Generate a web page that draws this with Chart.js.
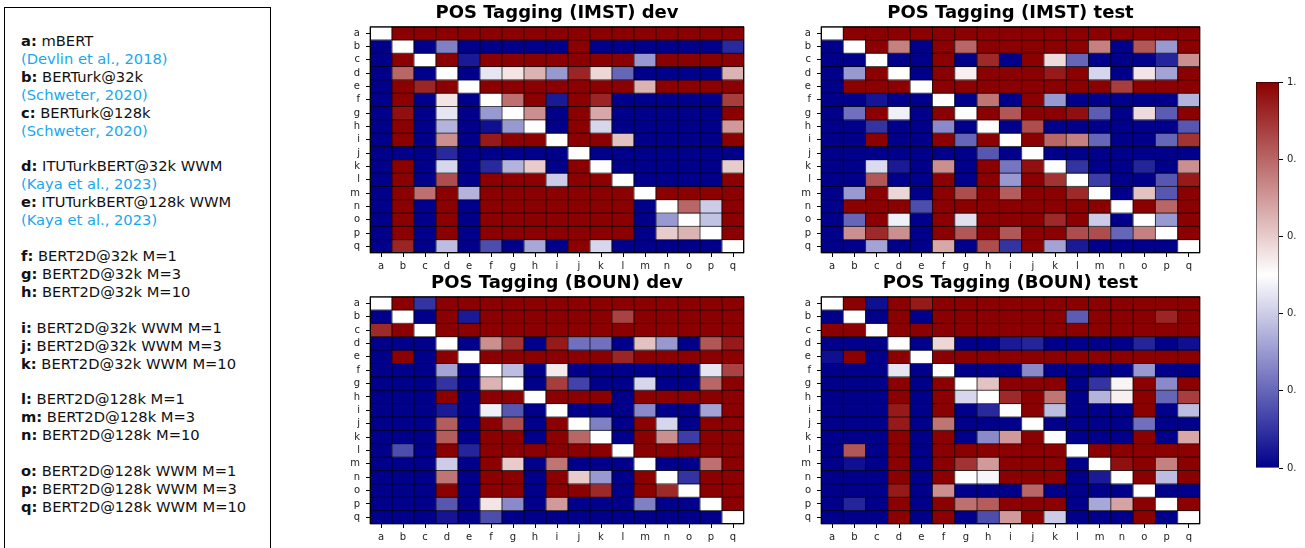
<!DOCTYPE html>
<html>
<head>
<meta charset="utf-8">
<script src="https://cdn.jsdelivr.net/npm/chart.js@4.4.1/dist/chart.umd.min.js"></script>
<style>
  body { margin: 0; background: #fff; width: 1305px; height: 548px; overflow: hidden; position: relative; font-family: "DejaVu Sans", sans-serif; }
  canvas { position: absolute; }
  #legendBox { position: absolute; left: 4px; top: 7px; width: 267px; height: 560px; border: 1px solid #000; box-sizing: border-box; }
  #legendBox .lines { position: absolute; left: 16px; top: 24px; font-size: 14.7px; line-height: 17.92px; color: #111; white-space: pre; }
  #legendBox b { font-weight: bold; }
  #legendBox .cite { color: #18a8ec; }
</style>
</head>
<body>
<div id="legendBox"><div class="lines" id="legendLines"></div></div>
<canvas id="c1" width="410" height="275" style="left:340px;top:0px"></canvas>
<canvas id="c2" width="416" height="275" style="left:790px;top:0px"></canvas>
<canvas id="c3" width="410" height="276" style="left:340px;top:270px"></canvas>
<canvas id="c4" width="416" height="276" style="left:790px;top:270px"></canvas>
<canvas id="cb" width="57" height="430" style="left:1240px;top:60px"></canvas>
<script>
// model letters (both axes)
const letters = ["a","b","c","d","e","f","g","h","i","j","k","l","m","n","o","p","q"];

// legend text: [letter, model name, citation or null], null = blank line
const legendRows = [
  ["a", "mBERT", "(Devlin et al., 2018)"],
  ["b", "BERTurk@32k", "(Schweter, 2020)"],
  ["c", "BERTurk@128k", "(Schweter, 2020)"],
  null,
  ["d", "ITUTurkBERT@32k WWM", "(Kaya et al., 2023)"],
  ["e", "ITUTurkBERT@128k WWM", "(Kaya et al., 2023)"],
  null,
  ["f", "BERT2D@32k M=1"], ["g", "BERT2D@32k M=3"], ["h", "BERT2D@32k M=10"],
  null,
  ["i", "BERT2D@32k WWM M=1"], ["j", "BERT2D@32k WWM M=3"], ["k", "BERT2D@32k WWM M=10"],
  null,
  ["l", "BERT2D@128k M=1"], ["m", "BERT2D@128k M=3"], ["n", "BERT2D@128k M=10"],
  null,
  ["o", "BERT2D@128k WWM M=1"], ["p", "BERT2D@128k WWM M=3"], ["q", "BERT2D@128k WWM M=10"]
];

const colorbarTicks = [0, 0.2, 0.4, 0.6, 0.8, 1.0];

// values (rows a..q, columns a..q)
const imstDev = [
  [0.5,1,1,1,1,1,1,1,1,1,1,1,1,1,1,1,1],
  [0,0.5,0,0.25,0,0,0,0,0,1,0,0,0,0,0,0,0.08],
  [0,1,0.5,1,0.05,1,1,1,1,1,1,1,0.3,1,1,1,1],
  [0,0.8,0,0.5,0,0.45,0.55,0.65,0.3,0.93,0.58,0.2,0,0,0,0,0.65],
  [0,1,0.93,1,0.5,1,1,1,1,1,1,1,0.65,1,1,1,1],
  [0,1,0,0.55,0,0.5,0.78,1,0.05,1,0.93,0,0,0,0,0,0.88],
  [0,0.97,0,0.45,0,0.3,0.5,0.72,0,1,0.67,0,0,0,0,0,1],
  [0,1,0,0.35,0,0.03,0.3,0.5,0,1,0.42,0,0,0,0,0,0.7],
  [0,1,0,0.72,0,0.95,1,1,0.5,1,1,0.62,0,0,0,0,1],
  [0,0,0,0.08,0,0,0,0,0,0.5,0,0,0,0,0,0,0],
  [0,1,0,0.42,0,0.08,0.35,0.6,0,1,0.5,0,0,0,0,0,0.6],
  [0,1,0,0.85,0,1,1,1,0.4,1,1,0.5,0,0,0,0,1],
  [0,1,0.78,1,0.35,1,1,1,1,1,1,1,0.5,1,1,1,1],
  [0,1,0,1,0,1,1,1,1,1,1,1,0,0.5,0.8,0.4,1],
  [0,1,0,1,0,1,1,1,1,1,1,1,0,0.3,0.5,0.38,1],
  [0,1,0,1,0,1,1,1,1,1,1,1,0,0.6,0.65,0.5,1],
  [0,0.93,0,0.37,0,0.15,0,0.33,0,1,0.42,0,0,0,0,0,0.5]
];

const imstTest = [
  [0.5,1,1,1,1,1,1,1,1,1,1,1,1,1,1,1,1],
  [0,0.5,1,0.75,0,1,0.8,1,1,1,1,1,0.75,0,0.83,0.3,1],
  [0,0,0.5,0,0,1,0,0.92,0,1,0.57,0.2,0,0,0,0.07,0.72],
  [0,0.3,1,0.5,0,1,0.53,1,1,1,0.95,1,0.42,0,0.55,0.32,1],
  [0,1,1,1,0.5,1,1,1,1,1,1,1,1,0.88,1,1,1],
  [0,0,0.04,0,0,0.5,0,0.77,0,1,0.3,0,0,0,0,0,0.35],
  [0,0.22,1,0.47,0,1,0.5,1,0.83,1,1,0.97,0.18,0,0.57,0.18,1],
  [0,0,0.1,0,0,0.27,0,0.5,0,0.85,0,0,0,0,0,0,0.17],
  [0,0,1,0,0,1,0.2,1,0.5,1,0.8,0.75,0.2,0,0,0.2,0.9],
  [0,0,0,0,0,0,0,0.17,0,0.5,0,0,0,0,0,0,0],
  [0,0,0.43,0.05,0,0.72,0,1,0.23,0.97,0.5,0.1,0,0,0.07,0,0.72],
  [0,0,0.83,0,0,1,0,1,0.3,1,0.9,0.5,0.12,0,0,0.17,0.95],
  [0,0.3,1,0.58,0,1,0.85,1,0.82,1,1,0.92,0.5,0,0.62,0.17,1],
  [0,1,1,1,0.15,1,1,1,1,1,1,1,1,0.5,1,0.8,1],
  [0,0.2,1,0.47,0,1,0.44,1,1,1,0.92,1,0.4,0,0.5,0.3,1],
  [0,0.72,0.92,0.72,0,1,0.83,1,0.83,1,1,0.85,0.85,0.2,0.75,0.5,1],
  [0,0,0.32,0,0,0.67,0,0.85,0.1,1,0.32,0.05,0,0,0,0,0.5]
];

const bounDev = [
  [0.5,1,0.1,1,1,1,1,1,1,1,1,1,1,1,1,1,1],
  [0,0.5,0,1,0.05,1,1,1,1,1,1,0.87,1,1,1,1,1],
  [0.92,1,0.5,1,1,1,1,1,1,1,1,1,1,1,1,1,1],
  [0,0,0,0.5,0,0.72,0.9,0,0.95,0.22,0.22,0,0.62,0.3,0,0.83,0.95],
  [0,1,0,1,0.5,1,1,1,1,1,1,0.93,1,1,1,1,1],
  [0,0,0,0.32,0,0.5,0.37,0,0.54,0,0,0,0,0,0,0.45,0.87],
  [0,0,0,0.1,0,0.65,0.5,0,0.88,0.13,0,0,0.42,0,0,0.8,1],
  [0,0,0,1,0,1,1,0.5,1,1,1,0,1,1,1,1,1],
  [0,0,0,0.05,0,0.47,0.17,0,0.5,0,0,0,0.27,0,0,0.32,1],
  [0,0,0,0.82,0,1,0.85,0,1,0.5,0.25,0,1,0.42,0,1,1],
  [0,0,0,0.82,0,1,1,0,1,0.8,0.5,0,1,0.72,0.12,1,1],
  [0,0.15,0,1,0.07,1,1,1,1,1,1,0.5,1,1,1,1,1],
  [0,0,0,0.4,0,1,0.6,0,0.77,0,0,0,0.5,0,0,0.78,1],
  [0,0,0,0.77,0,1,1,0,1,0.6,0.3,0,1,0.5,0.1,1,1],
  [0,0,0,1,0,1,1,0,1,1,0.92,0,1,0.92,0.5,1,1],
  [0,0,0,0.17,0,0.55,0.27,0,0.7,0,0,0,0.25,0,0,0.5,1],
  [0,0,0,0.04,0,0.15,0,0,0,0,0,0,0,0,0,0,0.5]
];

const bounTest = [
  [0.5,1,0.03,1,0.95,1,1,1,1,1,1,1,1,1,1,1,1],
  [0,0.5,0,1,0,1,1,1,1,1,1,0.18,1,1,1,0.93,1],
  [1,1,0.5,1,1,1,1,1,1,1,1,1,1,1,1,1,1],
  [0,0,0,0.5,0,0.58,0,0,0.05,0.07,0,0,0,0,0.07,0,0.03],
  [0.03,1,0,1,0.5,1,1,1,1,1,1,1,1,1,1,1,1],
  [0,0,0,0.45,0,0.5,0,0,0,0.27,0,0,0,0,0.3,0,0],
  [0,0,0,1,0,1,0.5,0.62,1,1,1,0,0.1,0.52,1,0.27,1],
  [0,0,0,1,0,1,0.42,0.5,0.92,1,0.77,0,0.35,0.53,1,0.2,0.88],
  [0,0,0,0.95,0,1,0,0.08,0.5,1,0.37,0,0,0,1,0,0.37],
  [0,0,0,0.95,0,0.77,0,0,0,0.5,0,0,0,0,0.22,0,0],
  [0,0,0,1,0,1,0,0.27,0.7,1,0.5,0,0,0,1,0,0.67],
  [0,0.83,0,1,0,1,1,1,1,1,1,0.5,1,1,1,1,1],
  [0,0.03,0,1,0,1,0.9,0.7,1,1,1,0,0.5,0.97,1,0.75,1],
  [0,0,0,1,0,1,0.5,0.48,1,1,1,0,0.05,0.5,1,0.37,1],
  [0,0,0,0.95,0,0.72,0,0,0,0.8,0,0,0,0,0.5,0,0],
  [0,0.07,0,1,0,1,0.78,0.82,1,1,1,0,0.33,0.68,1,0.5,1],
  [0,0,0,1,0,1,0,0.15,0.7,1,0.4,0,0,0,1,0,0.5]
];

// darkblue -> white -> darkred
function cmap(v) {
  const lo = [0, 0, 139], mid = [255, 255, 255], hi = [139, 0, 0];
  let a, b, t;
  if (v < 0.5) { a = lo; b = mid; t = v / 0.5; } else { a = mid; b = hi; t = (v - 0.5) / 0.5; }
  const c = a.map((x, i) => Math.round(x + (b[i] - x) * t));
  return `rgb(${c[0]},${c[1]},${c[2]})`;
}

// legend box text
const legendEl = document.getElementById("legendLines");
let html = "";
legendRows.forEach((row) => {
  if (!row) { html += "\n"; return; }
  html += `<b>${row[0]}:</b> ${row[1]}\n`;
  if (row[2]) html += `<span class="cite">${row[2]}</span>\n`;
});
legendEl.innerHTML = html;

const tickFont = { family: "DejaVu Sans", size: 10 };

// thin dark lines between cells, placed through the chart's own scales
const cellEdgesPlugin = {
  id: "cellEdges",
  afterDatasetsDraw(chart) {
    const { ctx, chartArea: a } = chart;
    const xs = chart.scales.x, ys = chart.scales.y;
    const n = letters.length;
    const half = (xs.getPixelForValue(1) - xs.getPixelForValue(0)) / 2;
    ctx.save();
    ctx.strokeStyle = "rgba(0,0,0,0.8)";
    ctx.lineWidth = 0.9;
    ctx.beginPath();
    for (let i = 0; i <= n; i++) {
      const py = ys.getPixelForValue(i);
      ctx.moveTo(a.left, py);
      ctx.lineTo(a.right, py);
      const px = i < n ? xs.getPixelForValue(i) - half : xs.getPixelForValue(n - 1) + half;
      ctx.moveTo(px, a.top);
      ctx.lineTo(px, a.bottom);
    }
    ctx.stroke();
    ctx.strokeStyle = "#000";
    ctx.lineWidth = 1;
    ctx.strokeRect(a.left + 0.5, a.top + 0.5, a.right - a.left - 1, a.bottom - a.top - 1);
    ctx.restore();
  },
};

function makeHeatmap(id, title, matrix, yWidth) {
  const datasets = matrix.map((row, r) => ({
    data: row.map(() => [r, r + 1]),
    backgroundColor: row.map((v) => cmap(v)),
    borderWidth: 0,
    barPercentage: 1,
    categoryPercentage: 1,
    grouped: false,
  }));

  return new Chart(document.getElementById(id), {
    type: "bar",
    data: { labels: letters, datasets },
    plugins: [cellEdgesPlugin],
    options: {
      responsive: false,
      animation: false,
      devicePixelRatio: 1,
      layout: { padding: { right: 6 } },
      plugins: {
        legend: { display: false },
        tooltip: { enabled: false },
        title: {
          display: true,
          fullSize: false,
          text: title,
          color: "#000",
          font: { family: "DejaVu Sans", size: 18, weight: "bold" },
          padding: { top: 3, bottom: 2 },
        },
      },
      scales: {
        x: {
          type: "category",
          offset: true,
          grid: { offset: false, drawOnChartArea: false, drawTicks: true, tickLength: 4, color: "#000" },
          border: { display: false },
          ticks: { font: tickFont, color: "#222", padding: 3, maxRotation: 0, autoSkip: false },
          afterFit: (s) => { s.height = 22; },
        },
        y: {
          type: "linear",
          min: 0,
          max: 17,
          reverse: true,
          afterBuildTicks: (s) => { s.ticks = letters.map((_, i) => ({ value: i + 0.5 })); },
          grid: { drawOnChartArea: false, drawTicks: true, tickLength: 4, color: "#000" },
          border: { display: false },
          ticks: { font: tickFont, color: "#222", padding: 6, autoSkip: false, callback: (v) => letters[Math.floor(v)] },
          afterFit: (s) => { s.width = yWidth; },
        },
      },
    },
  });
}

makeHeatmap("c1", "POS Tagging (IMST) dev", imstDev, 30);
makeHeatmap("c2", "POS Tagging (IMST) test", imstTest, 31);
makeHeatmap("c3", "POS Tagging (BOUN) dev", bounDev, 30);
makeHeatmap("c4", "POS Tagging (BOUN) test", bounTest, 31);

// colorbar (labels are clipped at the right edge, as in the source picture)
new Chart(document.getElementById("cb"), {
  type: "bar",
  data: {
    labels: ["scale"],
    datasets: [{
      data: [[colorbarTicks[0], colorbarTicks[colorbarTicks.length - 1]]],
      backgroundColor: (c) => {
        const area = c.chart.chartArea;
        if (!area) return "#fff";
        const g = c.chart.ctx.createLinearGradient(0, area.bottom, 0, area.top);
        g.addColorStop(0, cmap(0));
        g.addColorStop(0.5, cmap(0.5));
        g.addColorStop(1, cmap(1));
        return g;
      },
      borderColor: "#000",
      borderWidth: 0.8,
      borderSkipped: false,
      barPercentage: 1,
      categoryPercentage: 1,
    }],
  },
  options: {
    responsive: false,
    animation: false,
    devicePixelRatio: 1,
    layout: { padding: { left: 16, top: 22, bottom: 22 } },
    plugins: { legend: { display: false }, tooltip: { enabled: false } },
    scales: {
      x: { display: false },
      y: {
        position: "right",
        min: 0,
        max: 1,
        afterBuildTicks: (s) => { s.ticks = colorbarTicks.map((v) => ({ value: v })); },
        grid: { drawOnChartArea: false, drawTicks: true, tickLength: 4, color: "#000" },
        border: { display: false },
        ticks: { font: tickFont, color: "#222", padding: 4, callback: (v) => v.toFixed(1) },
        afterFit: (s) => { s.width = 18; },
      },
    },
  },
});
</script>
</body>
</html>
